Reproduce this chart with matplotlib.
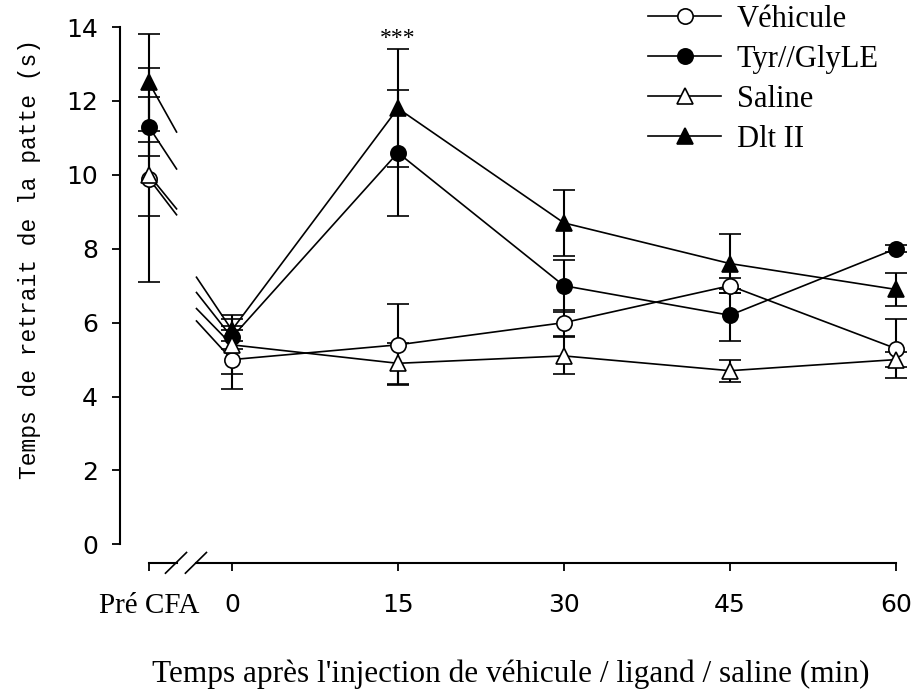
import matplotlib
matplotlib.use('Agg')
import matplotlib.pyplot as plt
from matplotlib import rcParams
from matplotlib.lines import Line2D

rcParams['font.family'] = ['Liberation Serif', 'DejaVu Serif']
rcParams['font.size'] = 18

# valeurs
times = [0, 15, 30, 45, 60]
x_pre = -7.5
tick_labels = ['Pré CFA', '0', '15', '30', '45', '60']

vehicule_pre, vehicule_pre_err = 9.9, 1.0
vehicule = [5.0, 5.4, 6.0, 7.0, 5.3]
vehicule_err = [0.8, 1.1, 0.35, 0.2, 0.8]

tyr_pre, tyr_pre_err = 11.3, 0.8
tyr = [5.6, 10.6, 7.0, 6.2, 8.0]
tyr_err = [0.3, 1.7, 0.7, 0.7, 0.1]

saline_pre, saline_pre_err = 10.0, 2.9
saline = [5.4, 4.9, 5.1, 4.7, 5.0]
saline_err = [0.8, 0.55, 0.5, 0.3, 0.2]

dlt_pre, dlt_pre_err = 12.5, 1.3
dlt = [5.8, 11.8, 8.7, 7.6, 6.9]
dlt_err = [0.3, 1.6, 0.9, 0.8, 0.45]

series = [
    ('Véhicule', vehicule_pre, vehicule_pre_err, vehicule, vehicule_err, 'o', 'white'),
    ('Tyr//GlyLE', tyr_pre, tyr_pre_err, tyr, tyr_err, 'o', 'black'),
    ('Saline', saline_pre, saline_pre_err, saline, saline_err, '^', 'white'),
    ('Dlt II', dlt_pre, dlt_pre_err, dlt, dlt_err, '^', 'black'),
]

# coupure de l'axe x
gap_l, gap_r = -5.0, -3.2

fig = plt.figure(figsize=(9.17, 6.94), dpi=100)
ax = fig.add_axes([0.131, 0.189, 0.858, 0.772])

ms = 11
for name, ypre, epre, ys, es, mk, fc in series:
    # courbe après injection
    ax.errorbar(times, ys, yerr=es, color='black', lw=1.2, marker=mk, ms=ms,
                mfc=fc, mec='black', mew=1.2, capsize=8, capthick=1.5,
                elinewidth=1.5, clip_on=False, zorder=3)
    # point pré CFA
    ax.errorbar([x_pre], [ypre], yerr=[epre], color='black', marker=mk, ms=ms,
                mfc=fc, mec='black', mew=1.2, capsize=8, capthick=1.5,
                elinewidth=1.5, clip_on=False, zorder=3)
    # segments coupés entre pré CFA et 0
    slope = (ys[0] - ypre) / (0 - x_pre)
    ax.plot([x_pre, gap_l], [ypre, ypre + 0.6 * slope * (gap_l - x_pre)],
            color='black', lw=1.2, zorder=2)
    ax.plot([gap_r, 0], [ys[0] - 0.5 * slope * (0 - gap_r), ys[0]],
            color='black', lw=1.2, zorder=2)

ax.set_xlim(-10.1, 61)
ax.set_ylim(-0.5, 14)
ax.set_yticks(range(0, 15, 2))
ax.set_xticks([x_pre] + times)
ax.set_xticklabels(tick_labels)

for s in ['top', 'right']:
    ax.spines[s].set_visible(False)
ax.spines['left'].set_bounds(0, 14)
ax.spines['bottom'].set_bounds(gap_r, 60)
ax.spines['left'].set_linewidth(1.5)
ax.spines['bottom'].set_linewidth(1.5)
ax.tick_params(direction='out', length=6, width=1.3)
ax.tick_params(axis='x', pad=16)
ax.tick_params(axis='y', pad=10)

for lab in ax.get_xticklabels() + ax.get_yticklabels():
    lab.set_fontfamily('DejaVu Sans')
    lab.set_fontsize(18)
pre_lab = ax.get_xticklabels()[0]
pre_lab.set_fontfamily('Liberation Serif')
pre_lab.set_fontsize(21)

# petit morceau d'axe + barres obliques
ax.plot([x_pre, gap_l], [-0.5, -0.5], color='black', lw=1.5, clip_on=False)
for xc in [gap_l, gap_r]:
    ax.plot([xc - 1.0, xc + 0.9], [-0.78, -0.22], color='black', lw=1.2, clip_on=False)

ax.text(15, 13.7, '***', ha='center', va='center', fontsize=17)

ax.set_ylabel('Temps de retrait de la patte (s)', fontsize=16.5,
              fontfamily='Liberation Mono')
ax.yaxis.set_label_coords(-0.100, 0.567)
ax.set_xlabel("Temps après l'injection de véhicule / ligand / saline (min)",
              fontsize=22.5)
ax.xaxis.set_label_coords(0.496, -0.181)

handles = [Line2D([], [], color='black', lw=1.2, marker=mk, ms=ms, mfc=fc,
                  mec='black', mew=1.2) for _, _, _, _, _, mk, fc in series]
labels = [s[0] for s in series]
fig.legend(handles, labels, loc='upper left', bbox_to_anchor=(648 / 917, 1 - 5 / 694),
           frameon=False, handlelength=2.4, handletextpad=0.5, labelspacing=0.36,
           borderpad=0, borderaxespad=0, fontsize=22)

fig.savefig('out.png', dpi=100)
